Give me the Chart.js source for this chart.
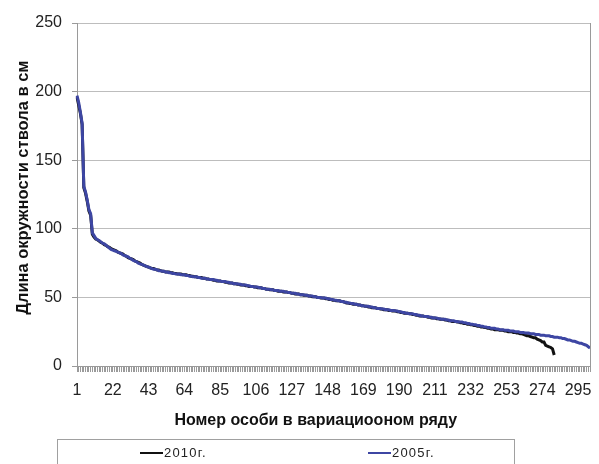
<!DOCTYPE html>
<html>
<head>
<meta charset="utf-8">
<script src="https://cdn.jsdelivr.net/npm/chart.js@4/dist/chart.umd.min.js"></script>
<style>
  body { margin: 0; background: #fff; overflow: hidden; }
  #wrap { position: relative; width: 599px; height: 464px; }
  #legend {
    position: absolute; left: 57px; top: 439px; width: 456px; height: 40px;
    border: 1px solid #a0a0a0; font: 13px "Liberation Sans", Arial, sans-serif;
    letter-spacing: 1.2px; color: #222;
  }
  .item { position: absolute; top: 5px; display: flex; align-items: center; }
  .item span.line { display: inline-block; width: 23px; height: 2px; margin-right: 1px; }
</style>
</head>
<body>
<div id="wrap">
  <canvas id="chart" width="599" height="464"></canvas>
  <div id="legend">
    <div class="item" style="left:82px"><span class="line" style="background:#111"></span>2010г.</div>
    <div class="item" style="left:310px"><span class="line" style="background:#3d46a3"></span>2005г.</div>
  </div>
</div>
<script>
// Данные
const series2005 = [
  197, 192, 185, 177, 131, 127, 121, 114, 111, 97,
  95, 93, 92, 91.5, 90.5, 89.5, 89, 88, 87, 86,
  85, 84.5, 84, 83.5, 83, 82.5, 82, 81, 80.5, 80,
  79.5, 78.5, 78, 77, 76.5, 76, 75, 74.5, 74, 73.5,
  73, 72.5, 72, 71.5, 71, 70.5, 70.5, 70, 69.5, 69.5,
  69, 69, 68.5, 68.5, 68, 68, 67.5, 67.5, 67, 67,
  67, 66.5, 66.5, 66.5, 66, 66, 65.5, 65.5, 65, 65,
  65, 64.5, 64.5, 64, 64, 64, 63.5, 63.5, 63, 63,
  63, 62.5, 62.5, 62, 62, 61.5, 61.5, 61.5, 61, 61,
  60.5, 60.5, 60, 60, 60, 59.5, 59.5, 59, 59, 59,
  58.5, 58.5, 58, 58, 57.5, 57.5, 57.5, 57, 57, 56.5,
  56.5, 56, 56, 56, 55.5, 55.5, 55, 55, 55, 54.5,
  54.5, 54.5, 54, 54, 53.5, 53.5, 53, 53, 53, 52.5,
  52.5, 52, 52, 52, 51.5, 51.5, 51, 51, 51, 50.5,
  50.5, 50, 50, 50, 49.5, 49.5, 49.5, 49, 49, 48.5,
  48.5, 48, 48, 47.5, 47.5, 47, 47, 46.5, 46.5, 46,
  46, 45.5, 45.5, 45, 45, 44.5, 44.5, 44, 44, 43.5,
  43.5, 43.5, 43, 43, 42.5, 42.5, 42, 42, 42, 41.5,
  41.5, 41, 41, 41, 40.5, 40.5, 40.5, 40, 40, 39.5,
  39.5, 39, 39, 38.5, 38.5, 38, 38, 38, 37.5, 37.5,
  37, 37, 36.5, 36.5, 36, 36, 36, 35.5, 35.5, 35,
  35, 35, 34.5, 34.5, 34, 34, 34, 33.5, 33.5, 33,
  33, 33, 32.5, 32.5, 32, 32, 32, 31.5, 31.5, 31,
  31, 30.5, 30.5, 30, 30, 29.5, 29.5, 29, 29, 28.5,
  28.5, 28, 28, 27.5, 27.5, 27.5, 27, 27, 26.5, 26.5,
  26.5, 26, 26, 26, 25.5, 25.5, 25.5, 25, 25, 25,
  24.5, 24.5, 24.5, 24, 24, 24, 23.5, 23.5, 23.5, 23,
  23, 23, 22.5, 22.5, 22.5, 22, 22, 22, 21.5, 21.5,
  21, 21, 21, 20.5, 20.5, 20, 20, 19.5, 19, 19,
  18.5, 18, 18, 17.5, 17, 16.5, 16.5, 16, 15.5, 15,
  14, 13
];

const series2010 = [
  196, 190, 184, 176, 130, 126, 120, 113, 110, 96,
  94, 92.5, 92, 91, 90, 89.5, 88.5, 88, 87, 86.5,
  85.5, 85, 84.5, 84, 83, 82.5, 82, 81.5, 80.5, 80,
  79, 78.5, 78, 77.5, 76.5, 76, 75.5, 75, 74, 73.5,
  73, 72.5, 72, 71.5, 71, 71, 70.5, 70, 70, 69.5,
  69, 69, 68.5, 68.5, 68.5, 68, 68, 67.5, 67.5, 67,
  67, 67, 66.5, 66.5, 66.5, 66, 66, 65.5, 65.5, 65,
  65, 64.5, 64.5, 64.5, 64, 64, 63.5, 63.5, 63, 63,
  62.5, 62.5, 62, 62, 62, 61.5, 61.5, 61, 61, 60.5,
  60.5, 60.5, 60, 60, 59.5, 59.5, 59, 59, 59, 58.5,
  58.5, 58, 58, 58, 57.5, 57.5, 57, 57, 57, 56.5,
  56.5, 56, 56, 55.5, 55.5, 55.5, 55, 55, 54.5, 54.5,
  54.5, 54, 54, 54, 53.5, 53.5, 53, 53, 52.5, 52.5,
  52.5, 52, 52, 51.5, 51.5, 51.5, 51, 51, 50.5, 50.5,
  50.5, 50, 50, 49.5, 49.5, 49.5, 49, 49, 48.5, 48.5,
  48, 48, 47.5, 47.5, 47.5, 47, 47, 46.5, 46, 46,
  45.5, 45.5, 45, 45, 45, 44.5, 44.5, 44, 44, 43.5,
  43.5, 43, 43, 42.5, 42.5, 42.5, 42, 42, 41.5, 41.5,
  41, 41, 41, 40.5, 40.5, 40, 40, 40, 39.5, 39.5,
  39, 39, 38.5, 38.5, 38.5, 38, 38, 37.5, 37.5, 37,
  37, 36.5, 36.5, 36.5, 36, 36, 35.5, 35.5, 35, 35,
  35, 34.5, 34.5, 34, 34, 34, 33.5, 33.5, 33, 33,
  32.5, 32.5, 32.5, 32, 32, 31.5, 31.5, 31, 31, 30.5,
  30.5, 30, 30, 29.5, 29.5, 29, 29, 28.5, 28.5, 28,
  28, 27.5, 27.5, 27, 27, 26.5, 26.5, 26.5, 26, 26,
  26, 25.5, 25.5, 25, 25, 25, 24.5, 24.5, 24, 24,
  23.5, 23.5, 23, 22.5, 22, 22, 21.5, 21, 20.5, 20.5,
  19.5, 19, 18.5, 17.5, 17.5, 15, 14.5, 14, 13.5, 12.5,
  8
];

// номера особей 1..302 (подпись через каждые 21)
const categories = series2005.map((v, i) => String(i + 1));
const labelStep = 21;
const yTicks = [0, 50, 100, 150, 200, 250];

const fontFamily = '"Liberation Sans", Arial, sans-serif';

// правая граница области построения
const frame = {
  id: 'frame',
  afterDraw(chart) {
    const { ctx, chartArea: a } = chart;
    ctx.save();
    ctx.strokeStyle = '#9a9a9a';
    ctx.lineWidth = 1;
    ctx.beginPath();
    ctx.moveTo(Math.round(a.right) + 0.5, a.top);
    ctx.lineTo(Math.round(a.right) + 0.5, a.bottom);
    ctx.stroke();
    ctx.restore();
  }
};

new Chart(document.getElementById('chart'), {
  type: 'line',
  data: {
    labels: categories,
    datasets: [
      {
        label: '2010г.',
        data: series2010,
        borderColor: '#111111',
        borderWidth: 3,
        pointRadius: 0,
        tension: 0,
        order: 1
      },
      {
        label: '2005г.',
        data: series2005,
        borderColor: '#3d46a3',
        borderWidth: 3,
        pointRadius: 0,
        tension: 0,
        order: 0
      }
    ]
  },
  options: {
    responsive: false,
    animation: false,
    devicePixelRatio: 1,
    layout: { padding: { left: 0, right: 2, top: 23, bottom: 34 } },
    plugins: {
      legend: { display: false },
      tooltip: { enabled: false }
    },
    scales: {
      x: {
        type: 'category',
        offset: false,
        afterFit(scale) { scale.height = 64; },
        grid: {
          drawOnChartArea: false,
          drawTicks: true,
          tickLength: 6,
          color: '#9a9a9a'
        },
        border: { color: '#9a9a9a' },
        ticks: {
          autoSkip: false,
          maxRotation: 0,
          padding: 9,
          color: '#222',
          font: { family: fontFamily, size: 16 },
          callback: (val, i) => (i % labelStep === 0 ? categories[i] : '')
        },
        title: {
          display: true,
          text: 'Номер особи в вариациооном ряду        ',
          color: '#111',
          padding: { top: 0, bottom: 0 },
          font: { family: fontFamily, size: 16, weight: 'bold' }
        }
      },
      y: {
        min: 0,
        max: 250,
        afterFit(scale) { scale.width = 77; },
        afterBuildTicks(scale) { scale.ticks = yTicks.map(v => ({ value: v })); },
        grid: {
          color: '#bdbdbd',
          tickLength: 5,
          tickColor: '#9a9a9a'
        },
        border: { color: '#9a9a9a' },
        ticks: {
          padding: 10,
          color: '#222',
          font: { family: fontFamily, size: 16 }
        },
        title: {
          display: true,
          text: '   Длина окружности ствола в см',
          color: '#111',
          padding: { top: 14, bottom: 0 },
          font: { family: fontFamily, size: 16.5, weight: 'bold' }
        }
      }
    }
  },
  plugins: [frame]
});
</script>
</body>
</html>
